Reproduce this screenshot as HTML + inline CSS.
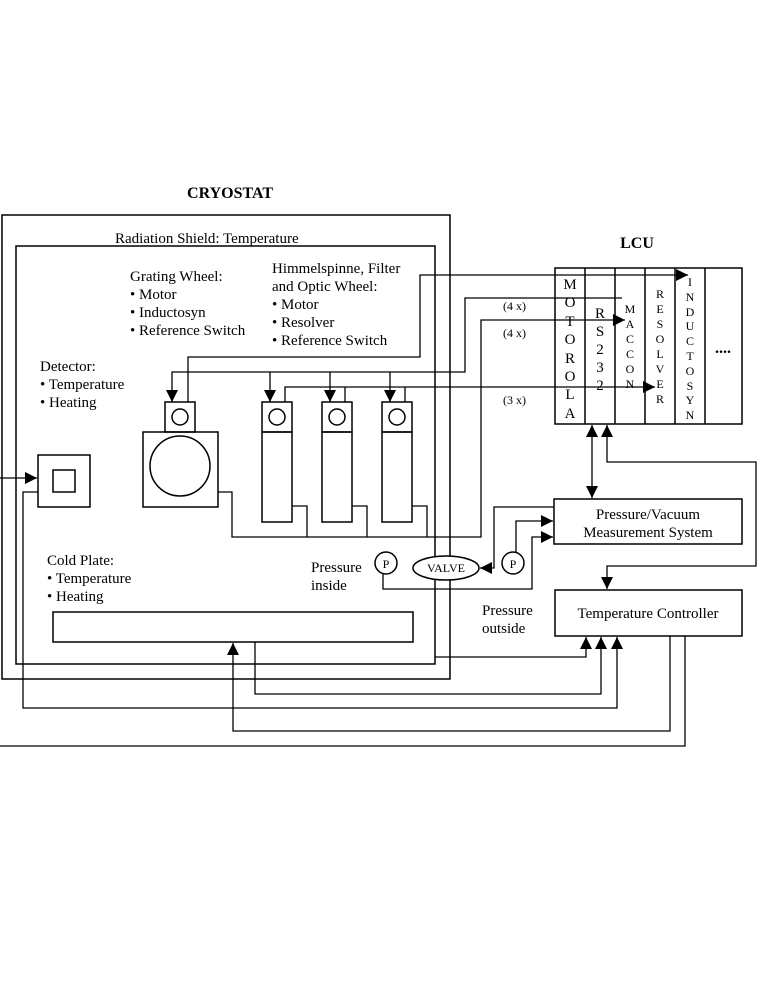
<!DOCTYPE html>
<html><head><meta charset="utf-8"><style>
html,body{margin:0;padding:0;background:#fff;}
svg{display:block;}
text{font-family:"Liberation Serif",serif;fill:#000;}
</style></head><body>
<svg width="763" height="987" viewBox="0 0 763 987" xmlns="http://www.w3.org/2000/svg">
<defs>
<marker id="b" viewBox="0 0 10 10" refX="10" refY="5" markerWidth="12" markerHeight="12" orient="auto-start-reverse" markerUnits="userSpaceOnUse"><path d="M0,0 L10,5 L0,10 z" fill="#000"/></marker>
</defs>
<g fill="none" stroke="#000" stroke-width="1.5">
<rect x="2" y="215" width="448" height="464"/>
<rect x="16" y="246" width="419" height="418"/>
<rect x="38" y="455" width="52" height="52"/>
<rect x="53" y="470" width="22" height="22"/>
<rect x="165" y="402" width="30" height="30"/>
<circle cx="180" cy="417" r="8"/>
<rect x="143" y="432" width="75" height="75"/>
<circle cx="180" cy="466" r="30"/>
<rect x="262" y="402" width="30" height="30"/><circle cx="277" cy="417" r="8"/><rect x="262" y="432" width="30" height="90"/>
<rect x="322" y="402" width="30" height="30"/><circle cx="337" cy="417" r="8"/><rect x="322" y="432" width="30" height="90"/>
<rect x="382" y="402" width="30" height="30"/><circle cx="397" cy="417" r="8"/><rect x="382" y="432" width="30" height="90"/>
<rect x="53" y="612" width="360" height="30"/>
<rect x="555" y="268" width="187" height="156"/>
<line x1="585" y1="268" x2="585" y2="424"/><line x1="615" y1="268" x2="615" y2="424"/>
<line x1="645" y1="268" x2="645" y2="424"/><line x1="675" y1="268" x2="675" y2="424"/>
<line x1="705" y1="268" x2="705" y2="424"/>
<rect x="554" y="499" width="188" height="45"/>
<rect x="555" y="590" width="187" height="46"/>
<ellipse cx="446" cy="568" rx="33" ry="12" fill="#fff"/>
<circle cx="386" cy="563" r="11"/>
<circle cx="513" cy="563" r="11"/>
</g>
<g fill="none" stroke="#000" stroke-width="1.3">
<polyline points="188,402 188,357 420,357 420,275 688,275" marker-end="url(#b)"/>
<polyline points="622,298 465,298 465,372 172,372 172,402" marker-end="url(#b)"/>
<line x1="270" y1="372" x2="270" y2="402" marker-end="url(#b)"/>
<line x1="330" y1="372" x2="330" y2="402" marker-end="url(#b)"/>
<line x1="390" y1="372" x2="390" y2="402" marker-end="url(#b)"/>
<polyline points="285,402 285,387 655,387" marker-end="url(#b)"/>
<line x1="345" y1="387" x2="345" y2="402"/>
<line x1="405" y1="387" x2="405" y2="402"/>
<polyline points="218,492 232,492 232,537 481,537 481,320 625,320" marker-end="url(#b)"/>
<polyline points="292,506 307,506 307,537"/>
<polyline points="352,506 367,506 367,537"/>
<polyline points="412,506 427,506 427,537"/>
<line x1="592" y1="425" x2="592" y2="498" marker-start="url(#b)" marker-end="url(#b)"/>
<polyline points="607,589 607,566 756,566 756,462 607,462 607,425" marker-start="url(#b)" marker-end="url(#b)"/>
<polyline points="554,507 494,507 494,568 480,568" marker-end="url(#b)"/>
<polyline points="516,552 516,521 553,521" marker-end="url(#b)"/>
<polyline points="383,574 383,589 532,589 532,537 553,537" marker-end="url(#b)"/>
<polyline points="435,657 586,657 586,637" marker-end="url(#b)"/>
<polyline points="255,642 255,694 601,694 601,637" marker-end="url(#b)"/>
<polyline points="38,492 23,492 23,708 617,708 617,637" marker-end="url(#b)"/>
<polyline points="670,636 670,731 233,731 233,643" marker-end="url(#b)"/>
<polyline points="685,636 685,746 0,746"/>
<line x1="0" y1="478" x2="37" y2="478" marker-end="url(#b)"/>
</g>
<text x="230" y="198" font-size="16" font-weight="bold" text-anchor="middle">CRYOSTAT</text>
<text x="637" y="248" font-size="16" font-weight="bold" text-anchor="middle">LCU</text>
<text x="115" y="243" font-size="15">Radiation Shield: Temperature</text>
<g font-size="15">
<text x="130" y="281">Grating Wheel:</text>
<text x="130" y="299">• Motor</text>
<text x="130" y="317">• Inductosyn</text>
<text x="130" y="335">• Reference Switch</text>
<text x="272" y="273">Himmelspinne, Filter</text>
<text x="272" y="291">and Optic Wheel:</text>
<text x="272" y="309">• Motor</text>
<text x="272" y="327">• Resolver</text>
<text x="272" y="345">• Reference Switch</text>
<text x="40" y="371">Detector:</text>
<text x="40" y="389">• Temperature</text>
<text x="40" y="407">• Heating</text>
<text x="47" y="565">Cold Plate:</text>
<text x="47" y="583">• Temperature</text>
<text x="47" y="601">• Heating</text>
<text x="311" y="572">Pressure</text>
<text x="311" y="590">inside</text>
<text x="482" y="615">Pressure</text>
<text x="482" y="633">outside</text>
<text x="648" y="519" text-anchor="middle">Pressure/Vacuum</text>
<text x="648" y="537" text-anchor="middle">Measurement System</text>
<text x="648" y="618" text-anchor="middle">Temperature Controller</text>
</g>
<g font-size="12">
<text x="446" y="572" text-anchor="middle">VALVE</text>
<text x="386" y="568" text-anchor="middle">P</text>
<text x="513" y="568" text-anchor="middle">P</text>
<text x="503" y="310">(4 x)</text>
<text x="503" y="337">(4 x)</text>
<text x="503" y="404">(3 x)</text>
</g>
<g font-size="15" text-anchor="middle">
<text x="570" y="289">M</text><text x="570" y="307">O</text><text x="570" y="326">T</text><text x="570" y="344">O</text><text x="570" y="363">R</text><text x="570" y="381">O</text><text x="570" y="399">L</text><text x="570" y="418">A</text>
<text x="600" y="318">R</text><text x="600" y="336">S</text><text x="600" y="354">2</text><text x="600" y="372">3</text><text x="600" y="390">2</text>
</g>
<g font-size="12" text-anchor="middle">
<text x="630" y="313">M</text><text x="630" y="328">A</text><text x="630" y="343">C</text><text x="630" y="358">C</text><text x="630" y="373">O</text><text x="630" y="388">N</text>
<text x="660" y="298">R</text><text x="660" y="313">E</text><text x="660" y="328">S</text><text x="660" y="343">O</text><text x="660" y="358">L</text><text x="660" y="373">V</text><text x="660" y="388">E</text><text x="660" y="403">R</text>
<text x="690" y="286">I</text><text x="690" y="301">N</text><text x="690" y="316">D</text><text x="690" y="330">U</text><text x="690" y="345">C</text><text x="690" y="360">T</text><text x="690" y="375">O</text><text x="690" y="390">S</text><text x="690" y="404">Y</text><text x="690" y="419">N</text>
</g>
<text x="723" y="353" font-size="16" font-weight="bold" text-anchor="middle">....</text>
</svg>
</body></html>
